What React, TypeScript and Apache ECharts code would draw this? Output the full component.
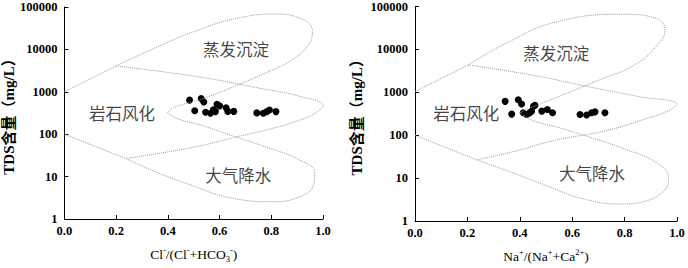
import React, { useEffect, useRef } from 'react';
import * as echarts from 'echarts';

// ---------- data ----------
const yTickLabels = ['1', '10', '100', '1000', '10000', '100000'];
const xTickLabels = ['0.0', '0.2', '0.4', '0.6', '0.8', '1.0'];
const regionNames = ['蒸发沉淀', '岩石风化', '大气降水'];

// Left panel samples: Cl-/(Cl-+HCO3-) vs TDS
const clRatio = [0.484, 0.529, 0.539, 0.504, 0.546, 0.565, 0.584, 0.590, 0.600, 0.576, 0.625, 0.632, 0.655, 0.744, 0.769, 0.783, 0.793, 0.818];
const clTds = [637, 695, 574, 359, 329, 312, 341, 509, 466, 378, 420, 345, 345, 318, 312, 341, 372, 341];

// Right panel samples: Na+/(Na++Ca2+) vs TDS
const naRatio = [0.344, 0.394, 0.407, 0.369, 0.413, 0.426, 0.445, 0.452, 0.458, 0.437, 0.484, 0.505, 0.525, 0.630, 0.655, 0.674, 0.687, 0.725];
const naTds = [615, 668, 533, 310, 333, 305, 364, 473, 499, 330, 364, 396, 333, 305, 297, 333, 350, 333];

// Gibbs envelope (left panel)
const clEnvTop = [[0, 1000], [0.2, 4070]];
const clEnvUpper = [[0.2, 4070], [0.373, 12500], [0.526, 29800], [0.654, 51900], [0.808, 68400], [0.91, 54700], [0.959, 27300], [0.943, 12500], [0.872, 5270], [0.783, 2870], [0.654, 1320], [0.526, 660], [0.424, 427], [0.398, 329]];
const clEnvLower = [[0.398, 329], [0.437, 233], [0.526, 165], [0.654, 90], [0.783, 49], [0.91, 24.5], [0.968, 12.3], [0.962, 6.1], [0.91, 3.34], [0.808, 2.57], [0.654, 3.06], [0.462, 7.25], [0.334, 14.5], [0.238, 26.7]];
const clEnvBottom = [[0, 100], [0.238, 26.7]];
const clEnvInner = [[0.2, 4070], [0.526, 2215], [0.757, 1208], [0.91, 783], [1.0, 466], [0.975, 329], [0.91, 214], [0.783, 127], [0.654, 83], [0.526, 53.4], [0.398, 38], [0.238, 26.7]];

// Gibbs envelope (right panel)
const naEnvTop = [[0, 1035], [0.204, 4330]];
const naEnvUpper = [[0.204, 4330], [0.35, 14200], [0.541, 44000], [0.795, 65800], [0.922, 52500], [0.954, 28500], [0.922, 11900], [0.833, 4170], [0.7, 1900], [0.55, 800], [0.44, 430], [0.4, 333]];
const naEnvLower = [[0.4, 333], [0.45, 220], [0.55, 150], [0.68, 85], [0.8, 48], [0.92, 23], [0.967, 10.2], [0.95, 5], [0.87, 2.8], [0.795, 2.5], [0.65, 3.2], [0.48, 7.5], [0.35, 15], [0.235, 26.6]];
const naEnvBottom = [[0, 100], [0.235, 26.6]];
const naEnvInner = [[0.204, 4330], [0.45, 2500], [0.65, 1400], [0.85, 800], [0.999, 533], [0.97, 380], [0.88, 240], [0.73, 128], [0.53, 75], [0.38, 42], [0.235, 26.6]];

// Region label anchor positions (data coords)
const clRegionX = [0.664, 0.223, 0.672];
const clRegionY = [10000, 318, 11.2];
const naRegionX = [0.539, 0.196, 0.676];
const naRegionY = [8100, 333, 13.2];

// ---------- chart ----------
const SERIF = '"Liberation Serif", "Times New Roman", serif';
const CJK = '"Liberation Serif", "Noto Sans CJK SC", serif';

function envSeries(idx: number, data: number[][], smooth: number | boolean) {
  return {
    type: 'line',
    xAxisIndex: idx,
    yAxisIndex: idx,
    data,
    symbol: 'none',
    showSymbol: false,
    smooth,
    silent: true,
    lineStyle: { color: '#9a9a9a', width: 1, type: 'dotted' },
  };
}

function panelSeries(idx: number, env: number[][][], xs: number[], ys: number[], rx: number[], ry: number[]) {
  const [top, upper, lower, bottom, inner] = env;
  return [
    envSeries(idx, top, false),
    envSeries(idx, upper, 0.45),
    envSeries(idx, lower, 0.45),
    envSeries(idx, bottom, false),
    envSeries(idx, inner, 0.45),
    {
      type: 'scatter',
      xAxisIndex: idx,
      yAxisIndex: idx,
      data: xs.map((x, i) => [x, ys[i]]),
      symbol: 'circle',
      symbolSize: 7,
      itemStyle: { color: '#000', opacity: 1 },
      silent: true,
    },
    {
      type: 'scatter',
      xAxisIndex: idx,
      yAxisIndex: idx,
      data: rx.map((x, i) => [x, ry[i], regionNames[i]]),
      symbolSize: 0,
      silent: true,
      label: {
        show: true,
        position: 'inside',
        formatter: (p: any) => p.data[2],
        fontFamily: '"Noto Sans CJK SC", sans-serif',
        fontSize: 16.5,
        color: '#111',
      },
    },
  ];
}

function xAxisCfg(idx: number, name: string, rich: any) {
  return {
    type: 'value',
    gridIndex: idx,
    min: 0,
    max: 1,
    interval: 0.2,
    axisLine: { show: true, onZero: false, lineStyle: { color: '#000', width: 1 } },
    axisTick: { show: true, inside: true, length: 4, lineStyle: { color: '#000' } },
    splitLine: { show: false },
    axisLabel: {
      formatter: (v: number) => xTickLabels[Math.round(v * 5)],
      fontFamily: SERIF,
      fontWeight: 'bold',
      fontSize: 12.5,
      color: '#000',
      margin: 5,
    },
    name,
    nameLocation: 'middle',
    nameGap: 26,
    nameTextStyle: { fontFamily: SERIF, fontSize: 13.5, color: '#000', rich },
  };
}

function yAxisCfg(idx: number, nameGap: number) {
  return {
    type: 'log',
    logBase: 10,
    gridIndex: idx,
    min: 1,
    max: 100000,
    axisLine: { show: true, onZero: false, lineStyle: { color: '#000', width: 1 } },
    axisTick: { show: true, inside: true, length: 4, lineStyle: { color: '#000' } },
    splitLine: { show: false },
    minorTick: { show: false },
    axisLabel: {
      formatter: (v: number) => yTickLabels[Math.round(Math.log10(v))],
      fontFamily: SERIF,
      fontWeight: 'bold',
      fontSize: 12.5,
      color: '#000',
      margin: 7,
    },
    name: 'TDS含量（mg/L）',
    nameLocation: 'middle',
    nameRotate: 90,
    nameGap,
    nameTextStyle: { fontFamily: CJK, fontWeight: 'bold', fontSize: 15, color: '#000' },
  };
}

const richBase = {
  n: { fontFamily: SERIF, fontSize: 13.5, lineHeight: 18, color: '#000' },
  sup: { fontFamily: SERIF, fontSize: 8.5, lineHeight: 8, verticalAlign: 'top', color: '#000' },
  sub: { fontFamily: SERIF, fontSize: 8.5, lineHeight: 8, verticalAlign: 'bottom', color: '#000' },
};

export default function App() {
  const ref = useRef<HTMLDivElement>(null);
  useEffect(() => {
    if (!ref.current) return;
    const chart = echarts.init(ref.current, undefined, { renderer: 'svg' });
    chart.setOption({
      animation: false,
      backgroundColor: '#fff',
      grid: [
        { left: 63, top: 7, width: 260, height: 221 },
        { left: 415, top: 6, width: 262, height: 220 },
      ],
      xAxis: [
        xAxisCfg(0, '{n|Cl}{sup|-}{n|/(Cl}{sup|-}{n|+HCO}{sub|3}{sup|-}{n|)}', richBase),
        xAxisCfg(1, '{n|Na}{sup|+}{n|/(Na}{sup|+}{n|+Ca}{sup|2+}{n|)}', richBase),
      ],
      yAxis: [yAxisCfg(0, 42), yAxisCfg(1, 51)],
      series: [
        ...panelSeries(0, [clEnvTop, clEnvUpper, clEnvLower, clEnvBottom, clEnvInner], clRatio, clTds, clRegionX, clRegionY),
        ...panelSeries(1, [naEnvTop, naEnvUpper, naEnvLower, naEnvBottom, naEnvInner], naRatio, naTds, naRegionX, naRegionY),
      ],
    });
    return () => chart.dispose();
  }, []);
  return (
    <div
      ref={ref}
      style={{ position: 'fixed', left: 0, top: 0, width: 688, height: 268, background: '#fff' }}
    />
  );
}
